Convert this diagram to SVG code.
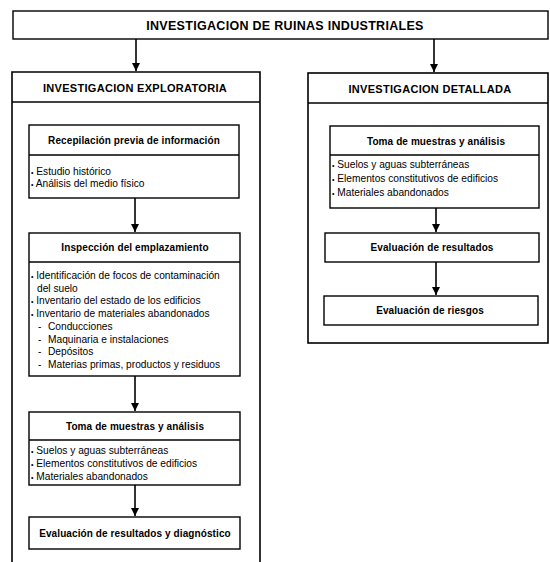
<svg xmlns="http://www.w3.org/2000/svg" width="550" height="562" viewBox="0 0 550 562">
<defs>
<marker id="ah" viewBox="0 0 8 8" refX="8" refY="4" markerWidth="8" markerHeight="8" markerUnits="userSpaceOnUse" orient="auto">
<path d="M0,0 L8,4 L0,8 Z" fill="#000"/>
</marker>
<style>
.box{fill:#fff;stroke:#000;stroke-width:1.4}
.outer{fill:none;stroke:#000;stroke-width:1.6}
.div{stroke:#000;stroke-width:1.3}
.title{font-family:"Liberation Sans",Arial,sans-serif;font-weight:bold;font-size:12.5px;letter-spacing:0.3px;text-anchor:middle;fill:#000}
.hdr{font-family:"Liberation Sans",Arial,sans-serif;font-weight:bold;font-size:11px;letter-spacing:0.3px;text-anchor:middle;fill:#000}
.sub{font-family:"Liberation Sans",Arial,sans-serif;font-weight:bold;font-size:10px;letter-spacing:0.1px;text-anchor:middle;fill:#000}
.body{font-family:"Liberation Sans",Arial,sans-serif;font-size:10.2px;fill:#000}
.bul{font-size:7px}
.conn{stroke:#000;stroke-width:1.6;fill:none;marker-end:url(#ah)}
</style>
</defs>
<rect width="550" height="562" fill="#fff"/>

<g id="titulo">
<rect class="box" x="13" y="11" width="535" height="28"/>
<text class="title" x="285" y="29.5">INVESTIGACION DE RUINAS INDUSTRIALES</text>
</g>

<g id="exploratoria">
<path class="outer" d="M12,570 L12,72 L260,72 L260,570"/>
<line class="div" x1="12" y1="102" x2="260" y2="102"/>
<text class="hdr" x="135" y="91.5">INVESTIGACION EXPLORATORIA</text>
</g>

<g id="detallada">
<rect class="outer" x="308" y="73" width="240" height="270"/>
<line class="div" x1="308" y1="103" x2="548" y2="103"/>
<text class="hdr" x="430" y="92.5">INVESTIGACION DETALLADA</text>
</g>

<g id="recopilacion">
<rect class="box" x="29" y="125" width="210" height="73"/>
<line class="div" x1="29" y1="155" x2="239" y2="155"/>
<text class="sub" x="134" y="143.5">Recepilación previa de información</text>
<text class="body" x="31" y="174.5"><tspan class="bul">•</tspan> Estudio histórico</text>
<text class="body" x="31" y="186.5"><tspan class="bul">•</tspan> Análisis del medio físico</text>
</g>

<g id="inspeccion">
<rect class="box" x="29" y="233" width="211" height="143"/>
<line class="div" x1="29" y1="262" x2="240" y2="262"/>
<text class="sub" x="135" y="251">Inspección del emplazamiento</text>
<text class="body" x="31" y="279"><tspan class="bul">•</tspan> Identificación de focos de contaminación</text>
<text class="body" x="37" y="291.7">del suelo</text>
<text class="body" x="31" y="304.4"><tspan class="bul">•</tspan> Inventario del estado de los edificios</text>
<text class="body" x="31" y="317.1"><tspan class="bul">•</tspan> Inventario de materiales abandonados</text>
<text class="body" x="38" y="329.8">-<tspan x="48">Conducciones</tspan></text>
<text class="body" x="38" y="342.5">-<tspan x="48">Maquinaria e instalaciones</tspan></text>
<text class="body" x="38" y="355.2">-<tspan x="48">Depósitos</tspan></text>
<text class="body" x="38" y="367.9">-<tspan x="48">Materias primas, productos y residuos</tspan></text>
</g>

<g id="toma-exploratoria">
<rect class="box" x="29" y="412" width="211" height="73"/>
<line class="div" x1="29" y1="440" x2="240" y2="440"/>
<text class="sub" x="135" y="430">Toma de muestras y análisis</text>
<text class="body" x="31" y="454"><tspan class="bul">•</tspan> Suelos y aguas subterráneas</text>
<text class="body" x="31" y="467"><tspan class="bul">•</tspan> Elementos constitutivos de edificios</text>
<text class="body" x="31" y="480"><tspan class="bul">•</tspan> Materiales abandonados</text>
</g>

<g id="evaluacion-diagnostico">
<rect class="box" x="29" y="517" width="211" height="32"/>
<text class="sub" x="135" y="536.5">Evaluación de resultados y diagnóstico</text>
</g>

<g id="toma-detallada">
<rect class="box" x="330" y="126" width="209" height="82"/>
<line class="div" x1="330" y1="155" x2="539" y2="155"/>
<text class="sub" x="436" y="145">Toma de muestras y análisis</text>
<text class="body" x="332" y="167.5"><tspan class="bul">•</tspan> Suelos y aguas subterráneas</text>
<text class="body" x="332" y="181.5"><tspan class="bul">•</tspan> Elementos constitutivos de edificios</text>
<text class="body" x="332" y="195.5"><tspan class="bul">•</tspan> Materiales abandonados</text>
</g>

<g id="evaluacion-resultados">
<rect class="box" x="325" y="233" width="214" height="29"/>
<text class="sub" x="432" y="251">Evaluación de resultados</text>
</g>

<g id="evaluacion-riesgos">
<rect class="box" x="324" y="296" width="214" height="29"/>
<text class="sub" x="430" y="314">Evaluación de riesgos</text>
</g>

<g id="connectors">
<line class="conn" x1="136" y1="39" x2="136" y2="71"/>
<line class="conn" x1="434" y1="39" x2="434" y2="72"/>
<line class="conn" x1="135" y1="198" x2="135" y2="232"/>
<line class="conn" x1="135" y1="376" x2="135" y2="411"/>
<line class="conn" x1="135" y1="485" x2="135" y2="516"/>
<line class="conn" x1="436" y1="208" x2="436" y2="232"/>
<line class="conn" x1="436" y1="262" x2="436" y2="295"/>
</g>
</svg>
